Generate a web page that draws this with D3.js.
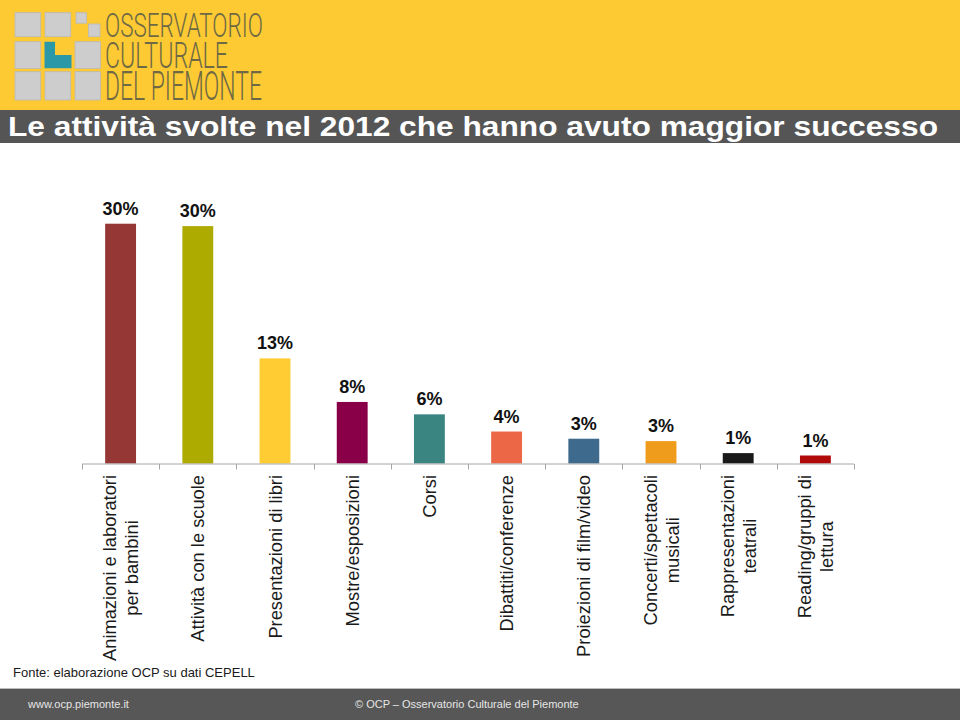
<!DOCTYPE html>
<html><head><meta charset="utf-8">
<script src="https://cdn.jsdelivr.net/npm/d3@7"></script>
<style>html,body{margin:0;padding:0;background:#fff;}svg{display:block;}</style>
</head><body>
<script>
const categories = [
  ["Animazioni e laboratori", "per bambini"],
  ["Attività con le scuole"],
  ["Presentazioni di libri"],
  ["Mostre/esposizioni"],
  ["Corsi"],
  ["Dibattiti/conferenze"],
  ["Proiezioni di film/video"],
  ["Concerti/spettacoli", "musicali"],
  ["Rappresentazioni", "teatrali"],
  ["Reading/gruppi di", "lettura"]
];
const values = [30.0, 29.7, 13.15, 7.7, 6.15, 4.0, 3.1, 2.8, 1.3, 1.0];
const colors = ["#953735", "#ADAB00", "#FFCC33", "#8A0048", "#3A8482", "#EC6746", "#3E6A8D", "#EF9C1C", "#1A1A1A", "#B00A0A"];
const titleText = "Le attività svolte nel 2012 che hanno avuto maggior successo";
const sourceText = "Fonte: elaborazione OCP su dati CEPELL";
const footerLeft = "www.ocp.piemonte.it";
const footerCenter = "© OCP – Osservatorio Culturale del Piemonte";
const logoLines = ["OSSERVATORIO", "CULTURALE", "DEL PIEMONTE"];

const W = 960, H = 720;
const FONT = "'Liberation Sans', Arial, Helvetica, sans-serif";
const svg = d3.select("body").append("svg").attr("width", W).attr("height", H);

// Header
svg.append("rect").attr("x", 0).attr("y", 0).attr("width", W).attr("height", 110).attr("fill", "#FDCA33");
// Logo squares
const logo = svg.append("g");
const sq = [
  [15,12.7,25.7,24],[45,12.7,25.7,24],
  [15,41.7,25.7,26.7],[75,41.7,25.5,26.7],
  [15,71.7,25.7,28.3],[45,71.7,25.7,28.3],[75,71.7,25.5,28.3]
];
sq.forEach(s => logo.append("rect").attr("x", s[0]).attr("y", s[1]).attr("width", s[2]).attr("height", s[3])
  .attr("fill", "#CDCDCD").attr("stroke", "#B9B9B9").attr("stroke-width", 0.8));
logo.append("rect").attr("x", 76).attr("y", 12.7).attr("width", 10.5).attr("height", 10.5).attr("fill", "#CDCDCD").attr("stroke", "#B9B9B9").attr("stroke-width", 0.8);
logo.append("rect").attr("x", 88.5).attr("y", 24).attr("width", 11.5).attr("height", 12.7).attr("fill", "#CDCDCD").attr("stroke", "#B9B9B9").attr("stroke-width", 0.8);
logo.append("path").attr("d", "M44.5,41.7 H55 V55 H71.5 V68.3 H44.5 Z").attr("fill", "#2A98A6");
const logoRows = [[36.7, 24], [68.3, 26.7], [100, 28.3]];
const logoW = [158, 123, 157];
logoLines.forEach((t, i) => {
  logo.append("text").attr("x", 105).attr("y", logoRows[i][0])
    .attr("font-family", "Roboto, 'Liberation Sans Narrow', sans-serif").attr("font-weight", 300)
    .attr("font-size", logoRows[i][1] / 0.711)
    .attr("textLength", logoW[i]).attr("lengthAdjust", "spacingAndGlyphs")
    .attr("fill", "#6E6944").text(t);
});

// Title bar
svg.append("rect").attr("x", 0).attr("y", 110).attr("width", W).attr("height", 33).attr("fill", "#555555");
svg.append("text").attr("x", 8).attr("y", 135.5).attr("font-family", FONT).attr("font-weight", "bold")
  .attr("font-size", 28).attr("fill", "#FFFFFF")
  .attr("textLength", 930).attr("lengthAdjust", "spacingAndGlyphs").text(titleText);

// Chart
const x = d3.scaleBand().domain(d3.range(categories.length)).range([82, 854]).paddingInner(0.6).paddingOuter(0.3);
const y = d3.scaleLinear().domain([0, 30]).range([463.5, 223.7]);
const step = x.step();
const bounds = d3.range(categories.length + 1).map(i => x.range()[0] + i * step);

svg.append("g").selectAll("rect").data(values).join("rect")
  .attr("x", (d, i) => x(i)).attr("width", x.bandwidth())
  .attr("y", d => y(d)).attr("height", d => y(0) - y(d))
  .attr("fill", (d, i) => colors[i]);

svg.append("g").selectAll("text").data(values).join("text")
  .attr("x", (d, i) => x(i) + x.bandwidth() / 2).attr("y", d => y(d) - 9)
  .attr("text-anchor", "middle").attr("font-family", FONT).attr("font-weight", "bold")
  .attr("font-size", 18).attr("fill", "#111").text(d => Math.round(d) + "%");

// axis
const ax = svg.append("g").attr("stroke", "#A6A6A6").attr("stroke-width", 1);
ax.append("line").attr("x1", bounds[0]).attr("x2", bounds[bounds.length - 1]).attr("y1", y(0) + 0.5).attr("y2", y(0) + 0.5);
ax.selectAll("line.t").data(bounds).join("line").attr("class", "t")
  .attr("x1", d => Math.round(d) + 0.5).attr("x2", d => Math.round(d) + 0.5)
  .attr("y1", y(0) + 0.5).attr("y2", y(0) + 6);

// category labels
const labTop = 475, fs = 18.3, lh = 22;
const lg = svg.append("g").attr("font-family", FONT).attr("font-size", fs).attr("fill", "#1A1A1A");
categories.forEach((lines, i) => {
  const cx = x(i) + x.bandwidth() / 2;
  const g = lg.append("g").attr("transform", `translate(${cx},0) rotate(-90)`);
  const texts = lines.map((l, j) => g.append("text").attr("text-anchor", "middle")
    .attr("y", (j - (lines.length - 1) / 2) * lh + fs * 0.36).text(l));
  const maxW = d3.max(texts, t => t.node().getComputedTextLength());
  texts.forEach(t => t.attr("x", -(labTop + maxW / 2)));
});

svg.append("text").attr("x", 13).attr("y", 677).attr("font-family", FONT).attr("font-size", 13)
  .attr("fill", "#1A1A1A").text(sourceText);

// Footer
svg.append("rect").attr("x", 0).attr("y", 688).attr("width", W).attr("height", 1).attr("fill", "#BDBDBD");
svg.append("rect").attr("x", 0).attr("y", 689).attr("width", W).attr("height", 31).attr("fill", "#575757");
svg.append("text").attr("x", 28).attr("y", 708).attr("font-family", FONT).attr("font-size", 11)
  .attr("fill", "#E6E6E6").text(footerLeft);
svg.append("text").attr("x", 355).attr("y", 708).attr("font-family", FONT).attr("font-size", 11)
  .attr("fill", "#E6E6E6").text(footerCenter);
</script>
</body></html>
